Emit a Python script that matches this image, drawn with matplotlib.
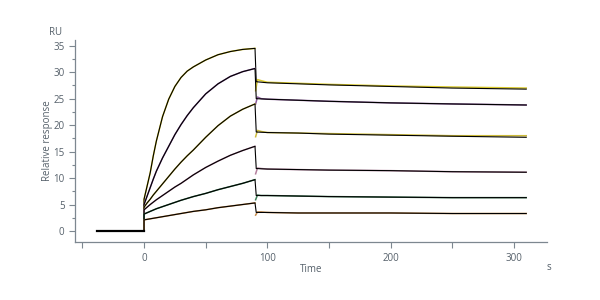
import numpy as np
import matplotlib
matplotlib.use('Agg')
import matplotlib.pyplot as plt
from matplotlib.ticker import MultipleLocator

plt.rcParams['font.family'] = ['Open Sans', 'DejaVu Sans']

# time points (s)
t_base = [-38, 0]
t_assoc = [0, 2.5, 5, 7.5, 10, 15, 20, 25, 30, 35, 40, 50, 60, 70, 80, 90]
t_dis = [91, 100, 125, 150, 200, 250, 310]
t_dis_data = [90.5, 92, 95, 100, 125, 150, 200, 250, 310]

# association phase, highest to lowest concentration (RU)
assoc_1 = [6.0, 8.5, 11.0, 14.2, 17.0, 21.6, 24.9, 27.3, 29.0, 30.2, 31.0, 32.3, 33.3, 33.9, 34.3, 34.5]
assoc_2 = [5.0, 6.6, 8.2, 9.8, 11.3, 13.8, 16.0, 18.2, 20.1, 21.8, 23.3, 25.9, 27.8, 29.2, 30.1, 30.7]
assoc_3 = [4.5, 5.3, 6.0, 6.8, 7.5, 8.9, 10.3, 11.7, 13.0, 14.2, 15.3, 17.7, 19.9, 21.7, 23.0, 24.0]
assoc_4 = [4.0, 4.5, 5.0, 5.45, 5.9, 6.7, 7.5, 8.3, 9.0, 9.8, 10.6, 12.0, 13.2, 14.3, 15.2, 16.0]
assoc_5 = [3.2, 3.45, 3.7, 3.95, 4.2, 4.6, 5.0, 5.4, 5.8, 6.15, 6.5, 7.1, 7.8, 8.4, 9.0, 9.7]
assoc_6 = [2.1, 2.2, 2.3, 2.4, 2.5, 2.7, 2.9, 3.1, 3.3, 3.5, 3.7, 4.0, 4.4, 4.7, 5.0, 5.3]

# dissociation phase, fitted
dis_1 = [28.2, 28.0, 27.8, 27.6, 27.3, 27.0, 26.8]
dis_2 = [25.0, 24.9, 24.7, 24.5, 24.2, 24.0, 23.8]
dis_3 = [18.7, 18.6, 18.5, 18.3, 18.1, 17.9, 17.7]
dis_4 = [11.8, 11.7, 11.6, 11.5, 11.4, 11.2, 11.1]
dis_5 = [6.7, 6.7, 6.6, 6.5, 6.4, 6.3, 6.3]
dis_6 = [3.5, 3.5, 3.4, 3.4, 3.4, 3.3, 3.3]

# dissociation phase, measured
dis_data_1 = [26.5, 28.6, 28.4, 28.1, 27.9, 27.7, 27.4, 27.2, 27.0]
dis_data_2 = [24.0, 25.3, 25.0, 24.9, 24.7, 24.5, 24.2, 24.0, 23.8]
dis_data_3 = [17.8, 19.0, 18.8, 18.6, 18.5, 18.4, 18.2, 18.0, 18.0]
dis_data_4 = [10.8, 11.9, 11.8, 11.7, 11.6, 11.5, 11.4, 11.2, 11.1]
dis_data_5 = [5.9, 6.8, 6.7, 6.7, 6.6, 6.5, 6.4, 6.3, 6.3]
dis_data_6 = [3.0, 3.6, 3.6, 3.5, 3.4, 3.4, 3.4, 3.3, 3.3]

assoc = [assoc_1, assoc_2, assoc_3, assoc_4, assoc_5, assoc_6]
dis = [dis_1, dis_2, dis_3, dis_4, dis_5, dis_6]
dis_data = [dis_data_1, dis_data_2, dis_data_3, dis_data_4, dis_data_5, dis_data_6]
colors = ['#d8c82c', '#8c5c9c', '#cdbb3a', '#b4809e', '#3f7f58', '#c48a4a']

fig = plt.figure(figsize=(6, 3), dpi=100)
ax = fig.add_axes([0.125, 0.193, 0.787, 0.674])

for a, d, dd, c in zip(assoc, dis, dis_data, colors):
    # measured curve (colored)
    ax.plot(t_base + t_assoc, [0, 0] + a, color=c, lw=1.1)
    ax.plot(t_dis_data, dd, color=c, lw=1.1)
    # fitted curve (black) on top
    ax.plot(t_base + t_assoc + t_dis, [0, 0] + a + d, color='black', lw=0.8)

ax.plot(t_base, [0, 0], color='black', lw=1.6)

ax.set_xlim(-56, 327)
ax.set_ylim(-2.1, 36.1)

axis_col = '#7d8790'
text_col = '#55606a'
for s in ['top', 'right']:
    ax.spines[s].set_visible(False)
for s in ['left', 'bottom']:
    ax.spines[s].set_color(axis_col)
    ax.spines[s].set_linewidth(0.9)

ax.set_xticks([0, 100, 200, 300])
ax.xaxis.set_minor_locator(MultipleLocator(50))
ax.yaxis.set_major_locator(MultipleLocator(5))
ax.yaxis.set_minor_locator(MultipleLocator(2.5))
ax.tick_params(axis='both', which='both', colors=axis_col, labelcolor=text_col,
               labelsize=7, width=0.8)
ax.tick_params(axis='both', which='major', length=4)
ax.tick_params(axis='x', which='minor', length=4)
ax.tick_params(axis='y', which='minor', length=2.5)

ax.set_xlabel('Time', fontsize=7, color=text_col, labelpad=0)
ax.set_ylabel('Relative response', fontsize=7, color=text_col)
ax.yaxis.set_label_coords(-0.046, 0.5)
fig.text(0.092, 0.893, 'RU', fontsize=7, color=text_col, ha='center', va='center')
fig.text(0.915, 0.11, 's', fontsize=7, color=text_col, ha='center', va='center')

fig.savefig('out.png', dpi=100, facecolor='white')
